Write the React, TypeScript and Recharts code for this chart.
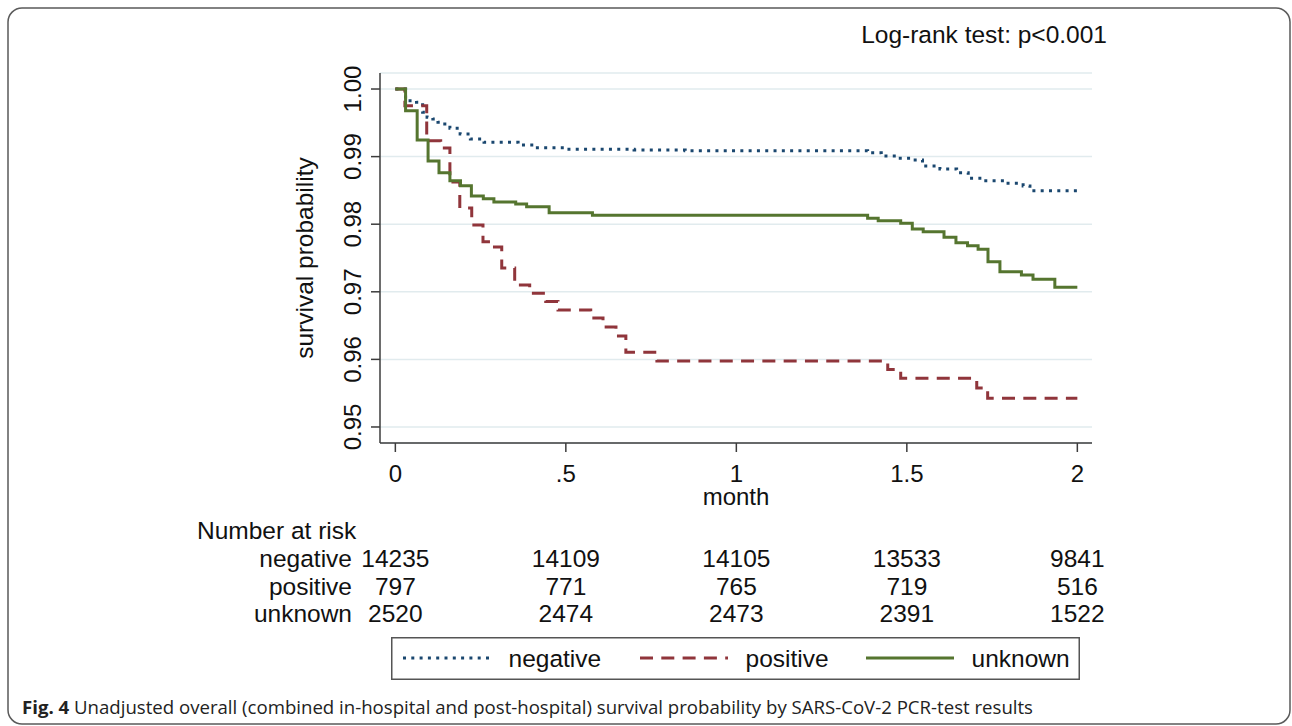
import { LineChart, Line, XAxis, YAxis, CartesianGrid, Legend } from 'recharts';

// Kaplan-Meier steps: time in months, survival probability
const negativeTime = [0, 0.03, 0.062, 0.08, 0.093, 0.11, 0.125, 0.145, 0.16, 0.19, 0.22, 0.26, 0.36, 0.41, 0.5, 0.7, 0.85, 1.385, 1.425, 1.47, 1.51, 1.546, 1.597, 1.646, 1.68, 1.724, 1.792, 1.841, 1.861, 2.0];
const negativeSurv = [1.0, 0.99827, 0.99803, 0.99655, 0.99581, 0.99556, 0.99507, 0.99482, 0.99419, 0.99334, 0.9926, 0.99211, 0.99172, 0.99132, 0.99108, 0.99098, 0.99087, 0.99058, 0.99009, 0.98975, 0.9895, 0.98861, 0.98817, 0.98762, 0.98679, 0.98644, 0.98605, 0.98565, 0.98496, 0.98496];

const positiveTime = [0, 0.028, 0.092, 0.133, 0.16, 0.189, 0.224, 0.257, 0.28, 0.312, 0.35, 0.394, 0.441, 0.477, 0.573, 0.609, 0.647, 0.676, 0.767, 1.444, 1.482, 1.705, 1.737, 2.0];
const positiveSurv = [1.0, 0.99753, 0.99235, 0.99127, 0.98624, 0.9824, 0.97988, 0.97741, 0.97663, 0.97352, 0.97101, 0.96978, 0.96857, 0.96731, 0.96612, 0.96479, 0.96346, 0.96105, 0.95976, 0.95851, 0.9572, 0.95577, 0.95425, 0.95425];

const unknownTime = [0, 0.03, 0.064, 0.096, 0.128, 0.16, 0.191, 0.223, 0.258, 0.289, 0.353, 0.385, 0.451, 0.578, 1.385, 1.416, 1.482, 1.516, 1.548, 1.609, 1.644, 1.678, 1.709, 1.738, 1.773, 1.836, 1.87, 1.934, 2.0];
const unknownSurv = [1.0, 0.99679, 0.99246, 0.98935, 0.98762, 0.98644, 0.9857, 0.98417, 0.98377, 0.98328, 0.98299, 0.98259, 0.9817, 0.98131, 0.98087, 0.98052, 0.98013, 0.97929, 0.9789, 0.97806, 0.97727, 0.97683, 0.97629, 0.97446, 0.97298, 0.97249, 0.97185, 0.97067, 0.97067];

// number at risk table
const monthTicks = [0, 0.5, 1, 1.5, 2];
const riskNegative = [14235, 14109, 14105, 13533, 9841];
const riskPositive = [797, 771, 765, 719, 516];
const riskUnknown = [2520, 2474, 2473, 2391, 1522];

const survTicks = [0.95, 0.96, 0.97, 0.98, 0.99, 1.0];

const FONT = '"Liberation Sans", Arial, sans-serif';
const TEXT = '#111';
const PLOT = { left: 380, right: 1092, top: 73, bottom: 443 };
const X_DOMAIN: [number, number] = [-0.045, 2.043];
const Y_DOMAIN: [number, number] = [0.94763, 1.00237];

const toRows = (t: number[], s: number[]) => t.map((v, i) => ({ t: v, s: s[i] }));

const series = [
  { name: 'negative', data: toRows(negativeTime, negativeSurv), color: '#1a476f', dash: '3 5.3', risk: riskNegative },
  { name: 'positive', data: toRows(positiveTime, positiveSurv), color: '#90353b', dash: '13 8.3', risk: riskPositive },
  { name: 'unknown', data: toRows(unknownTime, unknownSurv), color: '#55752f', dash: undefined, risk: riskUnknown },
];

// same mapping the x axis uses, for the at-risk columns
const xPx = (t: number) =>
  PLOT.left + ((t - X_DOMAIN[0]) / (X_DOMAIN[1] - X_DOMAIN[0])) * (PLOT.right - PLOT.left);

const fmtMonth = (v: number) => (v === 0 ? '0' : String(v).replace(/^0\./, '.'));

function XTick({ x, y, payload }: any) {
  return (
    <text x={x} y={y} dy={30} textAnchor="middle" fontSize={24} fontFamily={FONT} fill={TEXT}>
      {fmtMonth(payload.value)}
    </text>
  );
}

function YTick({ x, y, payload }: any) {
  const bx = x - 10;
  return (
    <text x={bx} y={y} transform={`rotate(-90 ${bx} ${y})`} textAnchor="middle" fontSize={24} fontFamily={FONT} fill={TEXT}>
      {payload.value.toFixed(2)}
    </text>
  );
}

function YTitle({ viewBox }: any) {
  const cx = viewBox.x - 7;
  const cy = viewBox.y + viewBox.height / 2;
  return (
    <text x={cx} y={cy} transform={`rotate(-90 ${cx} ${cy})`} textAnchor="middle" fontSize={24.5} fontFamily={FONT} fill={TEXT}>
      survival probability
    </text>
  );
}

function XTitle({ viewBox }: any) {
  return (
    <text x={viewBox.x + viewBox.width / 2} y={viewBox.y + 62} textAnchor="middle" fontSize={24} fontFamily={FONT} fill={TEXT}>
      month
    </text>
  );
}

function KMLegend() {
  const itemX = [12, 249, 475];
  return (
    <svg width={689} height={43} style={{ display: 'block' }}>
      <rect x={0.75} y={0.75} width={687.5} height={41.5} fill="#fff" stroke="#555" strokeWidth={1.5} />
      {series.map((s, i) => (
        <g key={s.name}>
          <line x1={itemX[i]} x2={itemX[i] + 88} y1={21} y2={21} stroke={s.color} strokeWidth={3} strokeDasharray={s.dash} />
          <text x={itemX[i] + 105.5} y={30} fontSize={24.5} fontFamily={FONT} fill={TEXT}>
            {s.name}
          </text>
        </g>
      ))}
    </svg>
  );
}

export default function App() {
  return (
    <div style={{ position: 'absolute', left: 0, top: 0, width: 1292, height: 726, background: '#fff', fontFamily: FONT }}>
      <LineChart width={1292} height={726} margin={{ top: 73, right: 200, bottom: 253, left: 320 }}>
        <CartesianGrid horizontal vertical={false} stroke="#e1ebee" strokeWidth={1.5} />
        <XAxis
          dataKey="t"
          type="number"
          domain={X_DOMAIN}
          allowDataOverflow
          ticks={monthTicks}
          height={30}
          tickSize={9}
          tickMargin={0}
          tick={<XTick />}
          axisLine={{ stroke: '#3c3c3c', strokeWidth: 1.5 }}
          tickLine={{ stroke: '#3c3c3c', strokeWidth: 1.5 }}
          label={XTitle}
        />
        <YAxis
          type="number"
          domain={Y_DOMAIN}
          allowDataOverflow
          ticks={survTicks}
          width={60}
          tickSize={9}
          tickMargin={0}
          tick={<YTick />}
          axisLine={{ stroke: '#3c3c3c', strokeWidth: 1.5 }}
          tickLine={{ stroke: '#3c3c3c', strokeWidth: 1.5 }}
          label={YTitle}
        />
        {series.map((s) => (
          <Line
            key={s.name}
            name={s.name}
            data={s.data}
            dataKey="s"
            type="stepAfter"
            stroke={s.color}
            strokeWidth={3}
            strokeDasharray={s.dash}
            strokeLinejoin="miter"
            dot={false}
            activeDot={false}
            isAnimationActive={false}
          />
        ))}
        <Legend
          layout="vertical"
          align="center"
          verticalAlign="middle"
          content={<KMLegend />}
          wrapperStyle={{ left: 391, top: 637, width: 689, height: 43 }}
        />
      </LineChart>

      <svg width={1292} height={726} style={{ position: 'absolute', left: 0, top: 0, pointerEvents: 'none' }}>
        <rect x={8} y={8} width={1282} height={716} rx={14} fill="none" stroke="#5a5a5a" strokeWidth={1.5} />
        <text x={1107} y={43} textAnchor="end" fontSize={24.5} fontFamily={FONT} fill={TEXT}>
          Log-rank test: p&lt;0.001
        </text>
        <text x={197} y={539} fontSize={24.5} fontFamily={FONT} fill={TEXT}>
          Number at risk
        </text>
        {series.map((s, r) => (
          <g key={s.name}>
            <text x={352} y={567 + r * 27.7} textAnchor="end" fontSize={24.5} fontFamily={FONT} fill={TEXT}>
              {s.name}
            </text>
            {s.risk.map((n, c) => (
              <text key={c} x={xPx(monthTicks[c])} y={567 + r * 27.7} textAnchor="middle" fontSize={24.5} fontFamily={FONT} fill={TEXT}>
                {n}
              </text>
            ))}
          </g>
        ))}
        <text x={22} y={714} fontSize={18.5} fontFamily='"Open Sans", "Noto Sans", sans-serif' fill="#222" textLength={1011} lengthAdjust="spacingAndGlyphs">
          <tspan fontWeight="bold">Fig. 4</tspan>
          {' Unadjusted overall (combined in-hospital and post-hospital) survival probability by SARS-CoV-2 PCR-test results'}
        </text>
      </svg>
    </div>
  );
}
